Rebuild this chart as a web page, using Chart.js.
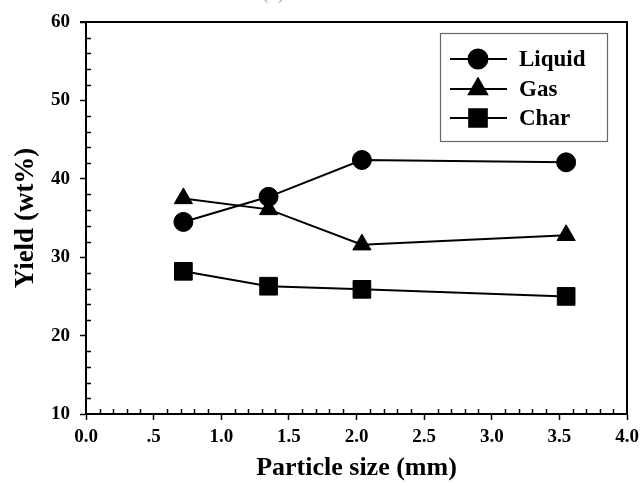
<!DOCTYPE html>
<html>
<head>
<meta charset="utf-8">
<script src="https://cdn.jsdelivr.net/npm/chart.js@4/dist/chart.umd.min.js"></script>
<style>
  html, body { margin: 0; padding: 0; background: #fff; }
  #wrap { width: 641px; height: 486px; }
</style>
</head>
<body>
<div id="wrap"><canvas id="chart"></canvas></div>
<script>
const particleSize = [0.72, 1.35, 2.04, 3.55];
const liquidYield = [34.5, 37.7, 42.4, 42.1];
const gasYield = [37.5, 36.1, 31.6, 32.8];
const charYield = [28.2, 26.3, 25.9, 25.0];
const seriesNames = ['Liquid', 'Gas', 'Char'];

const serif = '"Liberation Serif", "Times New Roman", serif';

const toPoints = (vals) => vals.map((v, i) => ({ x: particleSize[i], y: v }));

// frame, minor ticks, legend box and the cut-off caption
const frameAndLegend = {
  id: 'frameAndLegend',
  afterDraw(chart) {
    const { ctx, chartArea: { left, right, top, bottom }, scales: { x, y } } = chart;
    ctx.save();
    ctx.strokeStyle = '#000';

    // top + right border
    ctx.lineWidth = 2;
    ctx.beginPath();
    ctx.moveTo(left - 6, top);
    ctx.lineTo(right, top);
    ctx.lineTo(right, bottom);
    ctx.stroke();

    // minor ticks, inward
    ctx.lineWidth = 1.5;
    ctx.beginPath();
    for (let v = 12; v < 60; v += 2) {
      if (v % 10 === 0) continue;
      const py = Math.round(y.getPixelForValue(v)) + 0.5;
      ctx.moveTo(left, py);
      ctx.lineTo(left + 5, py);
    }
    for (let i = 1; i < 40; i++) {
      if (i % 5 === 0) continue;
      const px = Math.round(x.getPixelForValue(i / 10)) + 0.5;
      ctx.moveTo(px, bottom);
      ctx.lineTo(px, bottom - 5);
    }
    ctx.stroke();

    // legend
    const bx = 440, by = 33, bw = 167, bh = 108;
    ctx.lineWidth = 1.2;
    ctx.strokeStyle = '#666';
    ctx.strokeRect(bx + 0.5, by + 0.5, bw, bh);
    const rows = [59, 89, 118];
    chart.data.datasets.forEach((ds, i) => {
      const ry = rows[i];
      ctx.strokeStyle = '#000';
      ctx.lineWidth = 2;
      ctx.beginPath();
      ctx.moveTo(450, ry);
      ctx.lineTo(507, ry);
      ctx.stroke();
      ctx.fillStyle = '#000';
      Chart.helpers.drawPoint(ctx, {
        pointStyle: ds.pointStyle,
        radius: ds.pointRadius,
        rotation: 0,
        borderWidth: 1,
      }, 478, ry);
      ctx.fill();
      ctx.font = 'bold 23px ' + serif;
      ctx.textAlign = 'left';
      ctx.textBaseline = 'middle';
      ctx.fillText(ds.label, 519, ry + 1);
    });

    // caption cut off at the top edge
    ctx.fillStyle = '#bbb';
    ctx.font = 'bold 18px ' + serif;
    ctx.textAlign = 'center';
    ctx.textBaseline = 'bottom';
    ctx.fillText('(b) Palm kernel cake', 342, 3);
    ctx.restore();
  },
};

const makeSet = (label, vals, style, radius) => ({
  label,
  data: toPoints(vals),
  borderColor: '#000',
  backgroundColor: '#000',
  borderWidth: 2,
  pointStyle: style,
  pointRadius: radius,
  pointHoverRadius: radius,
  pointBackgroundColor: '#000',
  pointBorderColor: '#000',
  pointBorderWidth: 1,
  tension: 0,
});

const config = {
  type: 'line',
  data: {
    datasets: [
      makeSet(seriesNames[0], liquidYield, 'circle', 9.5),
      makeSet(seriesNames[1], gasYield, 'triangle', 10.5),
      makeSet(seriesNames[2], charYield, 'rect', 12.5),
    ],
  },
  options: {
    responsive: false,
    animation: false,
    layout: {
      padding: { left: 0, right: 14, top: 22, bottom: 0 },
    },
    scales: {
      x: {
        type: 'linear',
        min: 0,
        max: 4,
        afterFit: (scale) => {
          scale.height = 72;
          scale.paddingRight = 0;
          scale.paddingLeft = 0;
        },
        border: { display: true, color: '#000', width: 2 },
        grid: { drawOnChartArea: false, drawTicks: true, tickLength: 6, tickWidth: 1.5, tickColor: '#000' },
        ticks: {
          stepSize: 0.5,
          padding: 6,
          color: '#000',
          font: { family: serif, size: 19, weight: 'bold' },
          callback: (value) => {
            const s = Number(value).toFixed(1);
            return s === '0.5' ? '.5' : s;
          },
        },
        title: {
          display: true,
          text: 'Particle size (mm)',
          color: '#000',
          font: { family: serif, size: 26, weight: 'bold' },
          padding: { top: 0, bottom: 2 },
        },
      },
      y: {
        min: 10,
        max: 60,
        afterFit: (scale) => { scale.width = 86; },
        border: { display: true, color: '#000', width: 2 },
        grid: { drawOnChartArea: false, drawTicks: true, tickLength: 6, tickWidth: 1.5, tickColor: '#000' },
        ticks: {
          stepSize: 10,
          padding: 10,
          color: '#000',
          font: { family: serif, size: 19, weight: 'bold' },
        },
        title: {
          display: true,
          text: 'Yield (wt%)',
          color: '#000',
          font: { family: serif, size: 27, weight: 'bold' },
          padding: { top: 10, bottom: 0 },
        },
      },
    },
    plugins: {
      legend: { display: false },
      tooltip: { enabled: false },
    },
  },
  plugins: [frameAndLegend],
};

const canvas = document.getElementById('chart');
canvas.width = 641;
canvas.height = 486;
new Chart(canvas, config);
</script>
</body>
</html>
